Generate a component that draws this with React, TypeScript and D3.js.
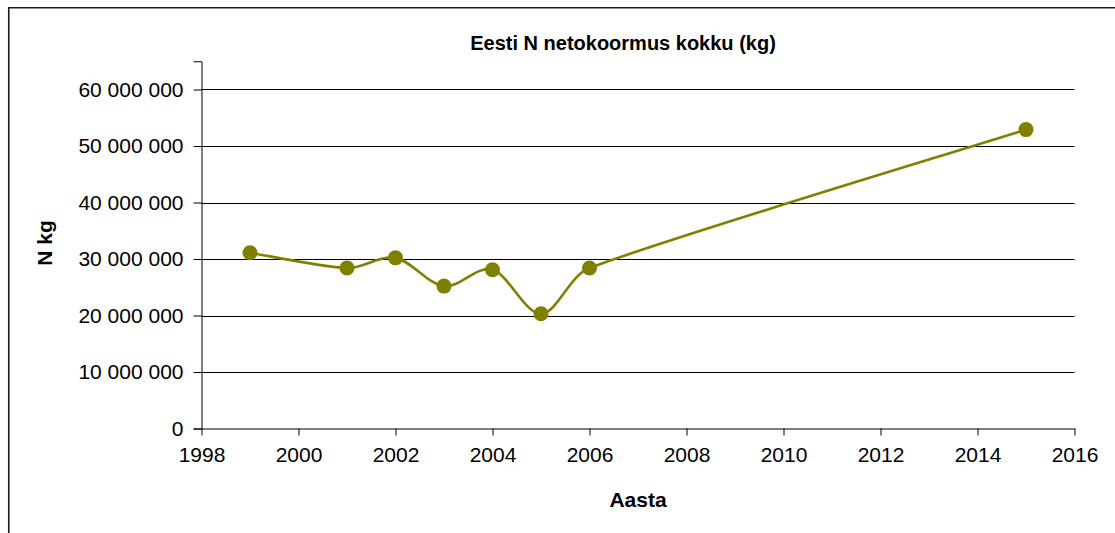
import { useRef, useEffect } from "react";
import * as d3 from "d3";

const years = [1999, 2001, 2002, 2003, 2004, 2005, 2006, 2015];
const nKg = [31100000, 28400000, 30200000, 25200000, 28100000, 20300000, 28400000, 52900000];
const xTicks = [1998, 2000, 2002, 2004, 2006, 2008, 2010, 2012, 2014, 2016];
const yTicks = [0, 10000000, 20000000, 30000000, 40000000, 50000000, 60000000];

const title = "Eesti N netokoormus kokku (kg)";
const xLabel = "Aasta";
const yLabel = "N kg";

// Excel-style smoothed line: tangent from the neighbours, length capped by the segment
const smoothPath = (p) => {
  const path = d3.path();
  const tan = p.map((_, i) => {
    const a = p[Math.max(0, i - 1)];
    const b = p[Math.min(p.length - 1, i + 1)];
    return [b[0] - a[0], b[1] - a[1]];
  });
  const ctrl = (i, dir, seg) => {
    const t = tan[i];
    const len = Math.hypot(t[0], t[1]) || 1;
    const l = Math.min(len / 6, seg / 3);
    return [p[i][0] + dir * (t[0] / len) * l, p[i][1] + dir * (t[1] / len) * l];
  };
  path.moveTo(p[0][0], p[0][1]);
  for (let i = 0; i < p.length - 1; i++) {
    const seg = Math.hypot(p[i + 1][0] - p[i][0], p[i + 1][1] - p[i][1]);
    const c1 = ctrl(i, 1, seg);
    const c2 = ctrl(i + 1, -1, seg);
    path.bezierCurveTo(c1[0], c1[1], c2[0], c2[1], p[i + 1][0], p[i + 1][1]);
  }
  return path.toString();
};

const App = () => {
  const svgRef = useRef(null);
  const width = 1115;
  const height = 533;

  useEffect(() => {
    const svg = d3.select(svgRef.current);
    svg.selectAll("*").remove();

    const font = "'Liberation Sans', Arial, sans-serif";
    const left = 201.5;
    const right = 1074.5;
    const bottom = 428.5;

    const x = d3.scaleLinear().domain([1998, 2016]).range([left, right]);
    const y = d3.scaleLinear().domain([0, 65000000]).range([bottom, 61.25]);

    // outer chart frame (only left and top visible in the picture)
    svg.append("path")
      .attr("d", `M8.75,${height + 5}V7.75H${width + 5}`)
      .attr("fill", "none")
      .attr("stroke", "#1a1a1a")
      .attr("stroke-width", 1.6);

    // gridlines
    svg.append("g")
      .selectAll("line")
      .data(yTicks.filter((d) => d > 0))
      .join("line")
      .attr("x1", left)
      .attr("x2", right)
      .attr("y1", (d) => Math.round(y(d)) + 0.5)
      .attr("y2", (d) => Math.round(y(d)) + 0.5)
      .attr("stroke", "#000")
      .attr("stroke-width", 1);

    const fmt = (d) => d3.format(",")(d).replace(/,/g, " ");

    // y axis
    const yAxis = svg.append("g")
      .attr("transform", `translate(${left},0)`)
      .call(d3.axisLeft(y).tickValues(yTicks).tickSize(8).tickPadding(10).tickFormat(fmt));
    yAxis.select(".domain").attr("stroke", "#000");
    yAxis.selectAll(".tick line").attr("stroke", "#000");
    yAxis.selectAll(".tick text")
      .attr("font-family", font)
      .attr("font-size", 21)
      .attr("fill", "#000");

    // x axis
    const xAxis = svg.append("g")
      .attr("transform", `translate(0,${bottom})`)
      .call(d3.axisBottom(x).tickValues(xTicks).tickSize(7).tickSizeOuter(0).tickPadding(12).tickFormat(d3.format("d")));
    xAxis.select(".domain").attr("stroke", "#000");
    xAxis.selectAll(".tick line").attr("stroke", "#000");
    xAxis.selectAll(".tick text")
      .attr("font-family", font)
      .attr("font-size", 21)
      .attr("fill", "#000");

    const pts = years.map((yr, i) => [x(yr), y(nKg[i])]);

    svg.append("path")
      .attr("d", smoothPath(pts))
      .attr("fill", "none")
      .attr("stroke", "#808000")
      .attr("stroke-width", 2.6);

    svg.append("g")
      .selectAll("circle")
      .data(pts)
      .join("circle")
      .attr("cx", (d) => d[0])
      .attr("cy", (d) => d[1])
      .attr("r", 7.5)
      .attr("fill", "#808000");

    // title and axis labels
    svg.append("text")
      .attr("x", 623)
      .attr("y", 50)
      .attr("text-anchor", "middle")
      .attr("font-family", font)
      .attr("font-weight", "bold")
      .attr("font-size", 20)
      .text(title);

    svg.append("text")
      .attr("x", 638)
      .attr("y", 507)
      .attr("text-anchor", "middle")
      .attr("font-family", font)
      .attr("font-weight", "bold")
      .attr("font-size", 21)
      .text(xLabel);

    svg.append("text")
      .attr("transform", `translate(52,243) rotate(-90)`)
      .attr("text-anchor", "middle")
      .attr("font-family", font)
      .attr("font-weight", "bold")
      .attr("font-size", 21)
      .text(yLabel);
  }, []);

  return (
    <div style={{ position: "fixed", left: 0, top: 0, width, height, overflow: "hidden", background: "#fff" }}>
      <svg ref={svgRef} width={width} height={height} style={{ display: "block" }}></svg>
    </div>
  );
};

export default App;
